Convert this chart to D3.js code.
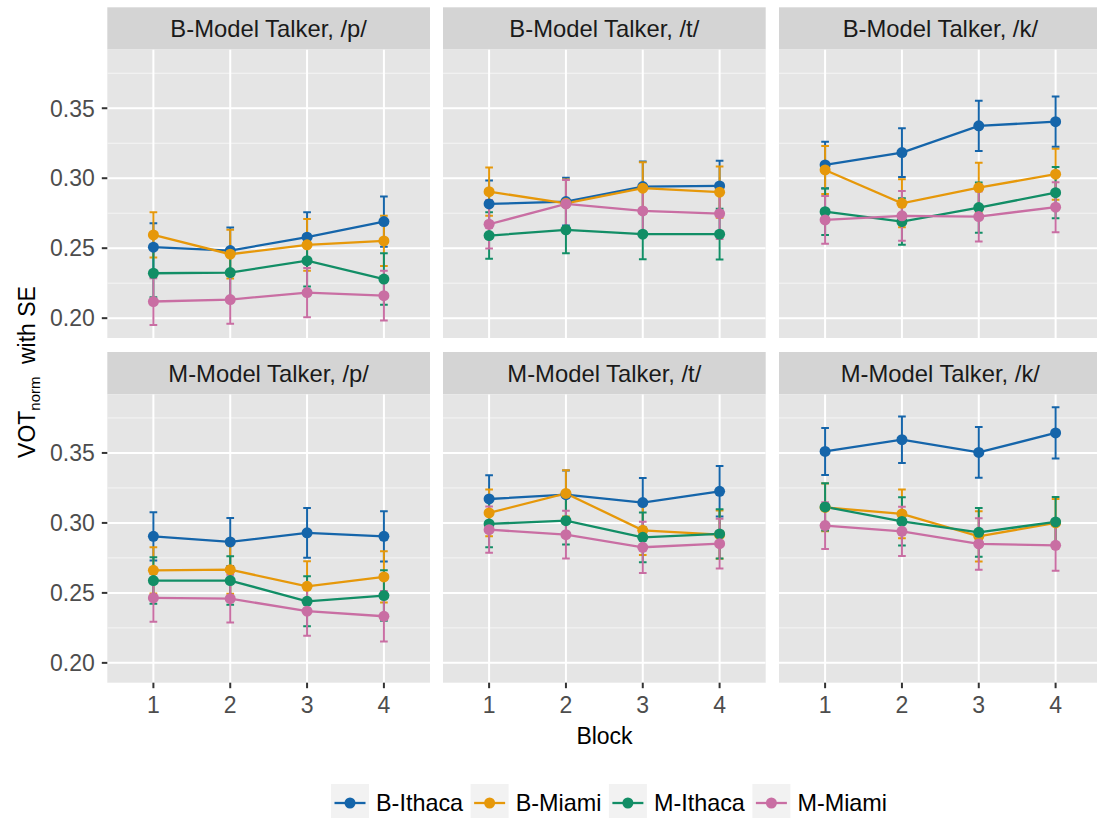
<!DOCTYPE html>
<html>
<head>
<meta charset="utf-8">
<script src="https://cdn.jsdelivr.net/npm/d3@7"></script>
<style>
  html, body { margin: 0; padding: 0; background: #ffffff; }
  svg { display: block; font-family: "Liberation Sans", Arial, Helvetica, sans-serif; }
</style>
</head>
<body>
<svg id="chart" width="1097" height="818"></svg>
<script>
// ---------------- data ----------------
const blocks = [1, 2, 3, 4];
const groups = ["B-Ithaca", "B-Miami", "M-Ithaca", "M-Miami"];
const groupColors = ["#1565AA", "#E6980A", "#128E66", "#C96EA3"];
const panelTitles = [
  "B-Model Talker, /p/", "B-Model Talker, /t/", "B-Model Talker, /k/",
  "M-Model Talker, /p/", "M-Model Talker, /t/", "M-Model Talker, /k/"
];
const yTicks = [0.20, 0.25, 0.30, 0.35];
const yMinor = [0.225, 0.275, 0.325, 0.375];
const xTickLabels = ["1", "2", "3", "4"];

// means: rows = groups (B-Ithaca, B-Miami, M-Ithaca, M-Miami), columns = blocks 1..4
const B_p_mean = [[0.2507, 0.2483, 0.2579, 0.2690], [0.2595, 0.2457, 0.2524, 0.2552], [0.2321, 0.2326, 0.2411, 0.2279], [0.2119, 0.2133, 0.2183, 0.2161]];
const B_p_se   = [[0.0172, 0.0164, 0.0178, 0.0179], [0.0162, 0.0174, 0.0185, 0.0179], [0.0171, 0.0176, 0.0185, 0.0184], [0.0167, 0.0172, 0.0176, 0.0178]];
const B_t_mean = [[0.2816, 0.2833, 0.2940, 0.2945], [0.2904, 0.2821, 0.2929, 0.2900], [0.2590, 0.2631, 0.2600, 0.2600], [0.2671, 0.2816, 0.2766, 0.2747]];
const B_t_se   = [[0.0167, 0.0171, 0.0179, 0.0179], [0.0172, 0.0170, 0.0185, 0.0183], [0.0166, 0.0167, 0.0179, 0.0181], [0.0174, 0.0172, 0.0166, 0.0181]];
const B_k_mean = [[0.3095, 0.3183, 0.3374, 0.3404], [0.3059, 0.2821, 0.2933, 0.3029], [0.2761, 0.2690, 0.2790, 0.2897], [0.2702, 0.2731, 0.2726, 0.2793]];
const B_k_se   = [[0.0166, 0.0174, 0.0180, 0.0179], [0.0172, 0.0172, 0.0178, 0.0182], [0.0166, 0.0166, 0.0179, 0.0183], [0.0171, 0.0177, 0.0179, 0.0179]];
const M_p_mean = [[0.2904, 0.2864, 0.2929, 0.2904], [0.2661, 0.2666, 0.2547, 0.2614], [0.2588, 0.2588, 0.2440, 0.2481], [0.2464, 0.2459, 0.2369, 0.2333]];
const M_p_se   = [[0.0172, 0.0172, 0.0178, 0.0179], [0.0165, 0.0172, 0.0179, 0.0183], [0.0166, 0.0173, 0.0179, 0.0180], [0.0171, 0.0171, 0.0176, 0.0181]];
const M_t_mean = [[0.3171, 0.3202, 0.3145, 0.3226], [0.3071, 0.3211, 0.2947, 0.2916], [0.2993, 0.3016, 0.2897, 0.2921], [0.2952, 0.2916, 0.2826, 0.2852]];
const M_t_se   = [[0.0169, 0.0172, 0.0176, 0.0181], [0.0167, 0.0165, 0.0177, 0.0172], [0.0167, 0.0171, 0.0178, 0.0176], [0.0166, 0.0171, 0.0183, 0.0178]];
const M_k_mean = [[0.3511, 0.3595, 0.3504, 0.3643], [0.3111, 0.3064, 0.2904, 0.3000], [0.3114, 0.3011, 0.2933, 0.3007], [0.2981, 0.2940, 0.2850, 0.2840]];
const M_k_se   = [[0.0168, 0.0166, 0.0182, 0.0183], [0.0170, 0.0174, 0.0179, 0.0170], [0.0169, 0.0172, 0.0174, 0.0179], [0.0167, 0.0176, 0.0184, 0.0181]];

const panelMeans = [B_p_mean, B_t_mean, B_k_mean, M_p_mean, M_t_mean, M_k_mean];
const panelSEs   = [B_p_se, B_t_se, B_k_se, M_p_se, M_t_se, M_k_se];

// ---------------- layout ----------------
const svg = d3.select("#chart");
svg.append("rect").attr("width", 1097).attr("height", 818).attr("fill", "#ffffff");

const panelW = 322.7, panelH = 288.5, stripH = 42.2;
const colX = [107.3, 443.0, 779.0];
const rowTop = [7.3, 352.0]; // strip tops
const fontSize = 23;
const stripFont = 23.8;
const legendFont = 23.4;

// y scale shared (ggplot fixed scales with 5% expansion)
let lo = Infinity, hi = -Infinity;
panelMeans.forEach((pm, p) => pm.forEach((g, gi) => g.forEach((m, bi) => {
  const s = panelSEs[p][gi][bi];
  lo = Math.min(lo, m - s); hi = Math.max(hi, m + s);
})));
const ext = (hi - lo) * 0.05;
const yDomain = [lo - ext, hi + ext];

panelTitles.forEach((title, p) => {
  const r = Math.floor(p / 3), c = p % 3;
  const x0 = colX[c];
  const sTop = rowTop[r];
  const pTop = sTop + stripH;
  const g = svg.append("g");

  const x = d3.scaleLinear().domain([0.4, 4.6]).range([x0, x0 + panelW]);
  const y = d3.scaleLinear().domain(yDomain).range([pTop + panelH, pTop]);

  // strip
  g.append("rect").attr("x", x0).attr("y", sTop).attr("width", panelW).attr("height", stripH).attr("fill", "#D4D4D4");
  g.append("text").attr("x", x0 + panelW / 2).attr("y", sTop + stripH / 2).attr("dy", "0.36em")
    .attr("text-anchor", "middle").attr("font-size", stripFont).attr("fill", "#1A1A1A").text(title);

  // panel bg
  g.append("rect").attr("x", x0).attr("y", pTop).attr("width", panelW).attr("height", panelH).attr("fill", "#E5E5E5");

  const clipId = "clip" + p;
  g.append("clipPath").attr("id", clipId).append("rect").attr("x", x0).attr("y", pTop).attr("width", panelW).attr("height", panelH);
  const inner = g.append("g").attr("clip-path", `url(#${clipId})`);

  // grid
  inner.selectAll(".ymin").data(yMinor).join("line")
    .attr("x1", x0).attr("x2", x0 + panelW).attr("y1", d => y(d)).attr("y2", d => y(d))
    .attr("stroke", "#F5F5F5").attr("stroke-width", 1);
  inner.selectAll(".ymaj").data(yTicks).join("line")
    .attr("x1", x0).attr("x2", x0 + panelW).attr("y1", d => y(d)).attr("y2", d => y(d))
    .attr("stroke", "#ffffff").attr("stroke-width", 2);
  inner.selectAll(".xmaj").data(blocks).join("line")
    .attr("x1", d => x(d)).attr("x2", d => x(d)).attr("y1", pTop).attr("y2", pTop + panelH)
    .attr("stroke", "#ffffff").attr("stroke-width", 2);

  const means = panelMeans[p], ses = panelSEs[p];
  const capHalf = (x(1.05) - x(1));

  // error bars
  groups.forEach((gn, gi) => {
    const eg = inner.append("g").attr("stroke", groupColors[gi]).attr("stroke-width", 2).attr("fill", "none");
    blocks.forEach((b, bi) => {
      const m = means[gi][bi], s = ses[gi][bi];
      const path = d3.path();
      path.moveTo(x(b) - capHalf, y(m + s)); path.lineTo(x(b) + capHalf, y(m + s));
      path.moveTo(x(b), y(m + s)); path.lineTo(x(b), y(m - s));
      path.moveTo(x(b) - capHalf, y(m - s)); path.lineTo(x(b) + capHalf, y(m - s));
      eg.append("path").attr("d", path.toString());
    });
  });
  // lines
  const line = d3.line().x((d, i) => x(blocks[i])).y(d => y(d));
  groups.forEach((gn, gi) => {
    inner.append("path").attr("d", line(means[gi])).attr("fill", "none")
      .attr("stroke", groupColors[gi]).attr("stroke-width", 2.3);
  });
  // points
  groups.forEach((gn, gi) => {
    inner.selectAll(null).data(means[gi]).join("circle")
      .attr("cx", (d, i) => x(blocks[i])).attr("cy", d => y(d)).attr("r", 5.5)
      .attr("fill", groupColors[gi]);
  });

  // y axis on left column
  if (c === 0) {
    yTicks.forEach(t => {
      g.append("line").attr("x1", x0 - 5.5).attr("x2", x0).attr("y1", y(t)).attr("y2", y(t))
        .attr("stroke", "#333333").attr("stroke-width", 2);
      g.append("text").attr("x", x0 - 12.5).attr("y", y(t)).attr("dy", "0.36em")
        .attr("text-anchor", "end").attr("font-size", fontSize).attr("fill", "#4D4D4D").text(d3.format(".2f")(t));
    });
  }
  // x axis on bottom row
  if (r === 1) {
    blocks.forEach((b, i) => {
      g.append("line").attr("x1", x(b)).attr("x2", x(b)).attr("y1", pTop + panelH).attr("y2", pTop + panelH + 5.5)
        .attr("stroke", "#333333").attr("stroke-width", 2);
      g.append("text").attr("x", x(b)).attr("y", pTop + panelH + 30)
        .attr("text-anchor", "middle").attr("font-size", fontSize).attr("fill", "#4D4D4D").text(xTickLabels[i]);
    });
  }
});

// axis titles
svg.append("text").attr("x", 604.5).attr("y", 744).attr("text-anchor", "middle")
  .attr("font-size", fontSize).attr("fill", "#000000").text("Block");

const yt = svg.append("text").attr("transform", "translate(34.5,372) rotate(-90)")
  .attr("text-anchor", "middle").attr("font-size", fontSize).attr("fill", "#000000");
yt.append("tspan").text("VOT");
yt.append("tspan").attr("font-size", 15).attr("dy", 5).text("norm");
yt.append("tspan").attr("dy", -5).attr("dx", 6).text(" with SE");

// legend
const legend = svg.append("g");
let lx = 331;
const keyW = 38, keyTop = 784, keyH = 38;
groups.forEach((gn, gi) => {
  legend.append("rect").attr("x", lx).attr("y", keyTop).attr("width", keyW).attr("height", keyH).attr("fill", "#F2F2F2");
  legend.append("line").attr("x1", lx + 3.5).attr("x2", lx + keyW - 3.5).attr("y1", keyTop + keyH / 2).attr("y2", keyTop + keyH / 2)
    .attr("stroke", groupColors[gi]).attr("stroke-width", 2.3);
  legend.append("circle").attr("cx", lx + keyW / 2).attr("cy", keyTop + keyH / 2).attr("r", 5.5).attr("fill", groupColors[gi]);
  const t = legend.append("text").attr("x", lx + keyW + 7).attr("y", keyTop + keyH / 2).attr("dy", "0.36em")
    .attr("font-size", legendFont).attr("fill", "#000000").text(gn);
  lx += keyW + 7 + t.node().getComputedTextLength() + 7.5;
});
</script>
</body>
</html>
